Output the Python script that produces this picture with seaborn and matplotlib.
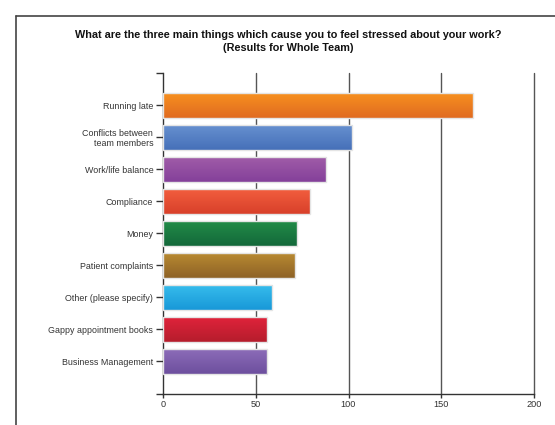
import numpy as np
import pandas as pd
import matplotlib
matplotlib.use("Agg")
import matplotlib.pyplot as plt
import matplotlib.colors as mcolors
from matplotlib.lines import Line2D
import seaborn as sns

categories = [
    "Running late",
    "Conflicts between\nteam members",
    "Work/life balance",
    "Compliance",
    "Money",
    "Patient complaints",
    "Other (please specify)",
    "Gappy appointment books",
    "Business Management",
]
responses = [167, 102, 88, 79, 72, 71, 59, 56, 56]

# top / bottom shades of each bar's gradient
top_colors = ["#F7901F", "#6690D0", "#A05CA8", "#F25E3E", "#228C48",
              "#B88A32", "#36BCEC", "#E0233B", "#8C6CB8"]
bottom_colors = ["#E06B21", "#4670B8", "#84409A", "#D8402A", "#13683A",
                 "#8E6226", "#1898D8", "#B51D2C", "#6D4F9E"]
x_ticks = [0, 50, 100, 150, 200]

df = pd.DataFrame({"reason": categories, "count": responses})

sns.set_theme(style="white")
plt.rcParams["font.family"] = ["Liberation Sans", "DejaVu Sans"]

fig = plt.figure(figsize=(5.55, 4.25), dpi=100)
ax = fig.add_axes([163 / 555, 1 - 393.5 / 425, (534 - 163) / 555, (393.5 - 73) / 425])

mid_colors = [tuple((np.array(mcolors.to_rgb(t)) + np.array(mcolors.to_rgb(b))) / 2)
              for t, b in zip(top_colors, bottom_colors)]
sns.barplot(data=df, x="count", y="reason", hue="reason", palette=mid_colors,
            orient="h", width=0.78, legend=False, ax=ax, zorder=3)

# vertical gradient fill clipped to each bar
for patch, tc, bc in zip(ax.patches, top_colors, bottom_colors):
    x0, y0 = patch.get_x(), patch.get_y()
    w, h = patch.get_width(), patch.get_height()
    c1 = np.array(mcolors.to_rgb(tc))
    c2 = np.array(mcolors.to_rgb(bc))
    t = np.linspace(0, 1, 64)[:, None, None]
    grad = c1[None, None, :] * (1 - t) + c2[None, None, :] * t
    im = ax.imshow(grad, extent=[x0, x0 + w, y0 + h, y0], aspect="auto",
                   interpolation="bilinear", zorder=3)
    im.set_clip_path(patch)
    patch.set_facecolor("none")
    patch.set_edgecolor("#E4E4E4")
    patch.set_linewidth(1.0)
    patch.set_zorder(4)

ax.set_xlim(0, 200)
ax.set_ylim(9, -1)
ax.set_xticks(x_ticks)
ax.set_xticklabels([str(v) for v in x_ticks], fontsize=6.6, color="#333333")
ax.set_yticks(range(-1, 10))
ax.set_yticklabels([""] + categories + [""], fontsize=6.4, color="#333333",
                   linespacing=1.2)
ax.set_xlabel("")
ax.set_ylabel("")

for v in x_ticks[1:]:
    ax.axvline(v, color="#555555", linewidth=1.0, zorder=1, clip_on=False)

for side in ["top", "right"]:
    ax.spines[side].set_visible(False)
for side in ["left", "bottom"]:
    ax.spines[side].set_color("#333333")
    ax.spines[side].set_linewidth(1.0)

ax.tick_params(axis="y", which="both", left=True, length=5, width=1,
               color="#333333", pad=2)
ax.tick_params(axis="x", which="both", bottom=True, length=3, width=1,
               color="#333333", pad=2)

fig.text(288 / 555, 1 - 41.5 / 425,
         "What are the three main things which cause you to feel stressed about your work?\n"
         "(Results for Whole Team)",
         ha="center", va="center", fontsize=7.85, fontweight="bold",
         color="#111111", linespacing=1.4)

# outer frame lines
fig.add_artist(Line2D([16 / 555, 1.0], [1 - 15.5 / 425, 1 - 15.5 / 425],
                      transform=fig.transFigure, color="#444444", linewidth=1.2))
fig.add_artist(Line2D([16 / 555, 16 / 555], [0.0, 1 - 15.5 / 425],
                      transform=fig.transFigure, color="#444444", linewidth=1.2))

fig.savefig("out.png", dpi=100)
